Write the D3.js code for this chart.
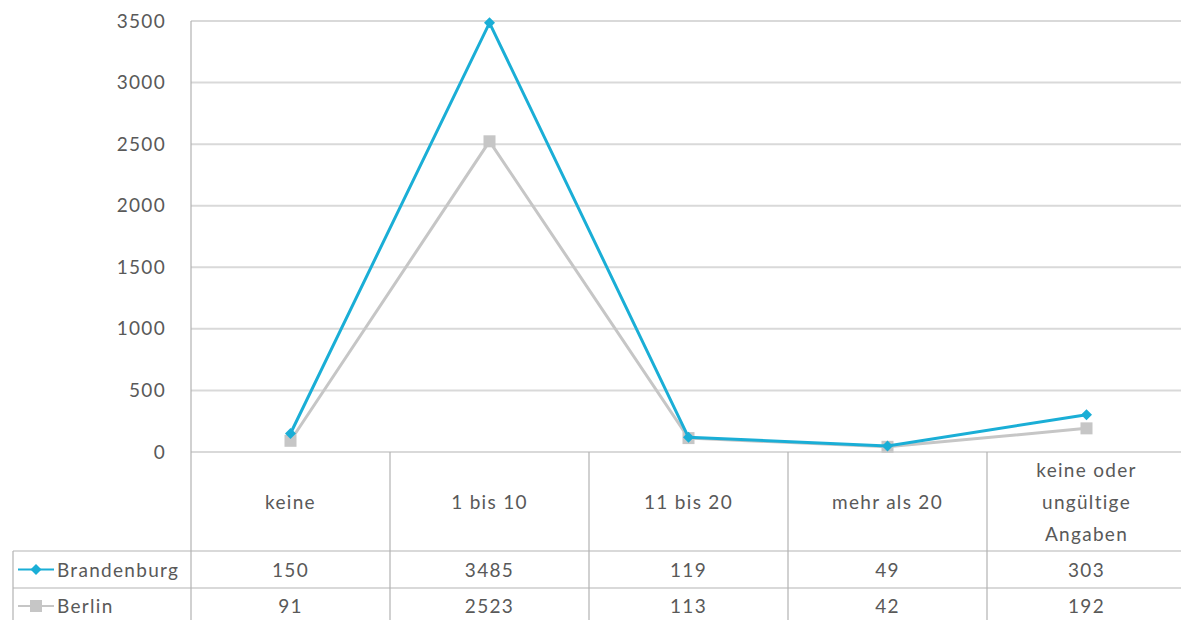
<!DOCTYPE html>
<html>
<head>
<meta charset="utf-8">
<script src="https://cdn.jsdelivr.net/npm/d3@7"></script>
<style>
  body { margin: 0; background: #fff; }
  text { font-family: Lato, "Open Sans", sans-serif; fill: #595959; letter-spacing: 1.3px; }
</style>
</head>
<body>
<svg id="chart" width="1181" height="620"></svg>
<script>
var categories = [['keine'], ['1 bis 10'], ['11 bis 20'], ['mehr als 20'], ['keine oder', 'ungültige', 'Angaben']];
var seriesNames = ['Brandenburg', 'Berlin'];
var brandenburg = [150, 3485, 119, 49, 303];
var berlin = [91, 2523, 113, 42, 192];
var yTicks = [0, 500, 1000, 1500, 2000, 2500, 3000, 3500];

var series = [
  {name: seriesNames[0], values: brandenburg, color: '#1aaed6', marker: 'diamond'},
  {name: seriesNames[1], values: berlin, color: '#c6c6c6', marker: 'square'}
];

var svg = d3.select('#chart');
var plotLeft = 191, plotRight = 1186, plotTop = 21, plotBottom = 452;
var tableLeft = 13, rowTop = [551, 588, 625];

var x = d3.scaleBand()
  .domain(d3.range(categories.length))
  .range([plotLeft, plotRight]);

var y = d3.scaleLinear()
  .domain([0, 3500])
  .range([plotBottom, plotTop]);

function cx(i) { return x(i) + x.bandwidth() / 2; }

// gridlines
svg.append('g').selectAll('line')
  .data(yTicks.slice(1))
  .enter().append('line')
  .attr('x1', plotLeft).attr('x2', 1181)
  .attr('y1', function(d) { return y(d); })
  .attr('y2', function(d) { return y(d); })
  .attr('stroke', '#d9d9d9')
  .attr('stroke-width', 2);

// y axis labels
var yAxis = d3.axisLeft(y).tickValues(yTicks).tickFormat(d3.format('d')).tickSize(0).tickPadding(25);
var ya = svg.append('g').attr('transform', 'translate(' + plotLeft + ',0)').call(yAxis);
ya.select('.domain').remove();
ya.selectAll('text')
  .style('font-size', '19px')
  .style('font-family', 'Lato, sans-serif')
  .style('letter-spacing', '1.3px')
  .attr('fill', '#595959');

// table lines
var g = svg.append('g').attr('stroke', '#b3b3b3').attr('stroke-width', 1.2);
g.append('line').attr('x1', plotLeft).attr('x2', 1181).attr('y1', plotBottom).attr('y2', plotBottom);
g.append('line').attr('x1', plotLeft).attr('x2', plotLeft).attr('y1', plotTop).attr('y2', 620);
rowTop.slice(0, 2).forEach(function(r) {
  g.append('line').attr('x1', tableLeft).attr('x2', 1181).attr('y1', r).attr('y2', r);
});
g.append('line').attr('x1', tableLeft).attr('x2', tableLeft).attr('y1', rowTop[0]).attr('y2', 620);
d3.range(1, categories.length).forEach(function(i) {
  g.append('line').attr('x1', x(i)).attr('x2', x(i)).attr('y1', plotBottom).attr('y2', 620);
});

// category labels
var cat = svg.append('g').selectAll('text')
  .data(categories)
  .enter().append('text')
  .attr('text-anchor', 'middle')
  .style('font-size', '19px')
  .attr('y', function(d) { return (plotBottom + rowTop[0]) / 2 + 7 - (d.length - 1) * 16; });
cat.selectAll('tspan')
  .data(function(d, i) { return d.map(function(t) { return {t: t, i: i}; }); })
  .enter().append('tspan')
  .attr('x', function(d) { return cx(d.i); })
  .attr('dy', function(d, j) { return j === 0 ? 0 : 32; })
  .text(function(d) { return d.t; });

var line = d3.line()
  .x(function(d, i) { return cx(i); })
  .y(function(d) { return y(d); });

function drawMarker(sel, s, px, py) {
  if (s.marker === 'diamond') {
    sel.append('path')
      .attr('d', 'M' + px + ',' + (py - 5.5) + 'L' + (px + 5.5) + ',' + py + 'L' + px + ',' + (py + 5.5) + 'L' + (px - 5.5) + ',' + py + 'Z')
      .attr('fill', s.color);
  } else {
    sel.append('rect')
      .attr('x', px - 6).attr('y', py - 6).attr('width', 12).attr('height', 12)
      .attr('fill', s.color);
  }
}

// Berlin first so Brandenburg sits on top
series.slice().reverse().forEach(function(s) {
  svg.append('path')
    .datum(s.values)
    .attr('fill', 'none')
    .attr('stroke', s.color)
    .attr('stroke-width', 3)
    .attr('d', line);
  var mg = svg.append('g');
  s.values.forEach(function(v, i) {
    drawMarker(mg, s, cx(i), y(v));
  });
});

// table rows
series.forEach(function(s, r) {
  var ry = r === 0 ? (rowTop[0] + rowTop[1]) / 2 : rowTop[1] + 18;
  var lg = svg.append('g');
  lg.append('line').attr('x1', 18).attr('x2', 54).attr('y1', ry).attr('y2', ry)
    .attr('stroke', s.color).attr('stroke-width', 2);
  drawMarker(lg, s, 36, ry);
  lg.append('text').attr('x', 57).attr('y', ry + 7).style('font-size', '19px').text(s.name);
  svg.append('g').selectAll('text')
    .data(s.values)
    .enter().append('text')
    .attr('text-anchor', 'middle')
    .style('font-size', '19px')
    .attr('x', function(d, i) { return cx(i); })
    .attr('y', ry + 7)
    .text(function(d) { return d; });
});
</script>
</body>
</html>
